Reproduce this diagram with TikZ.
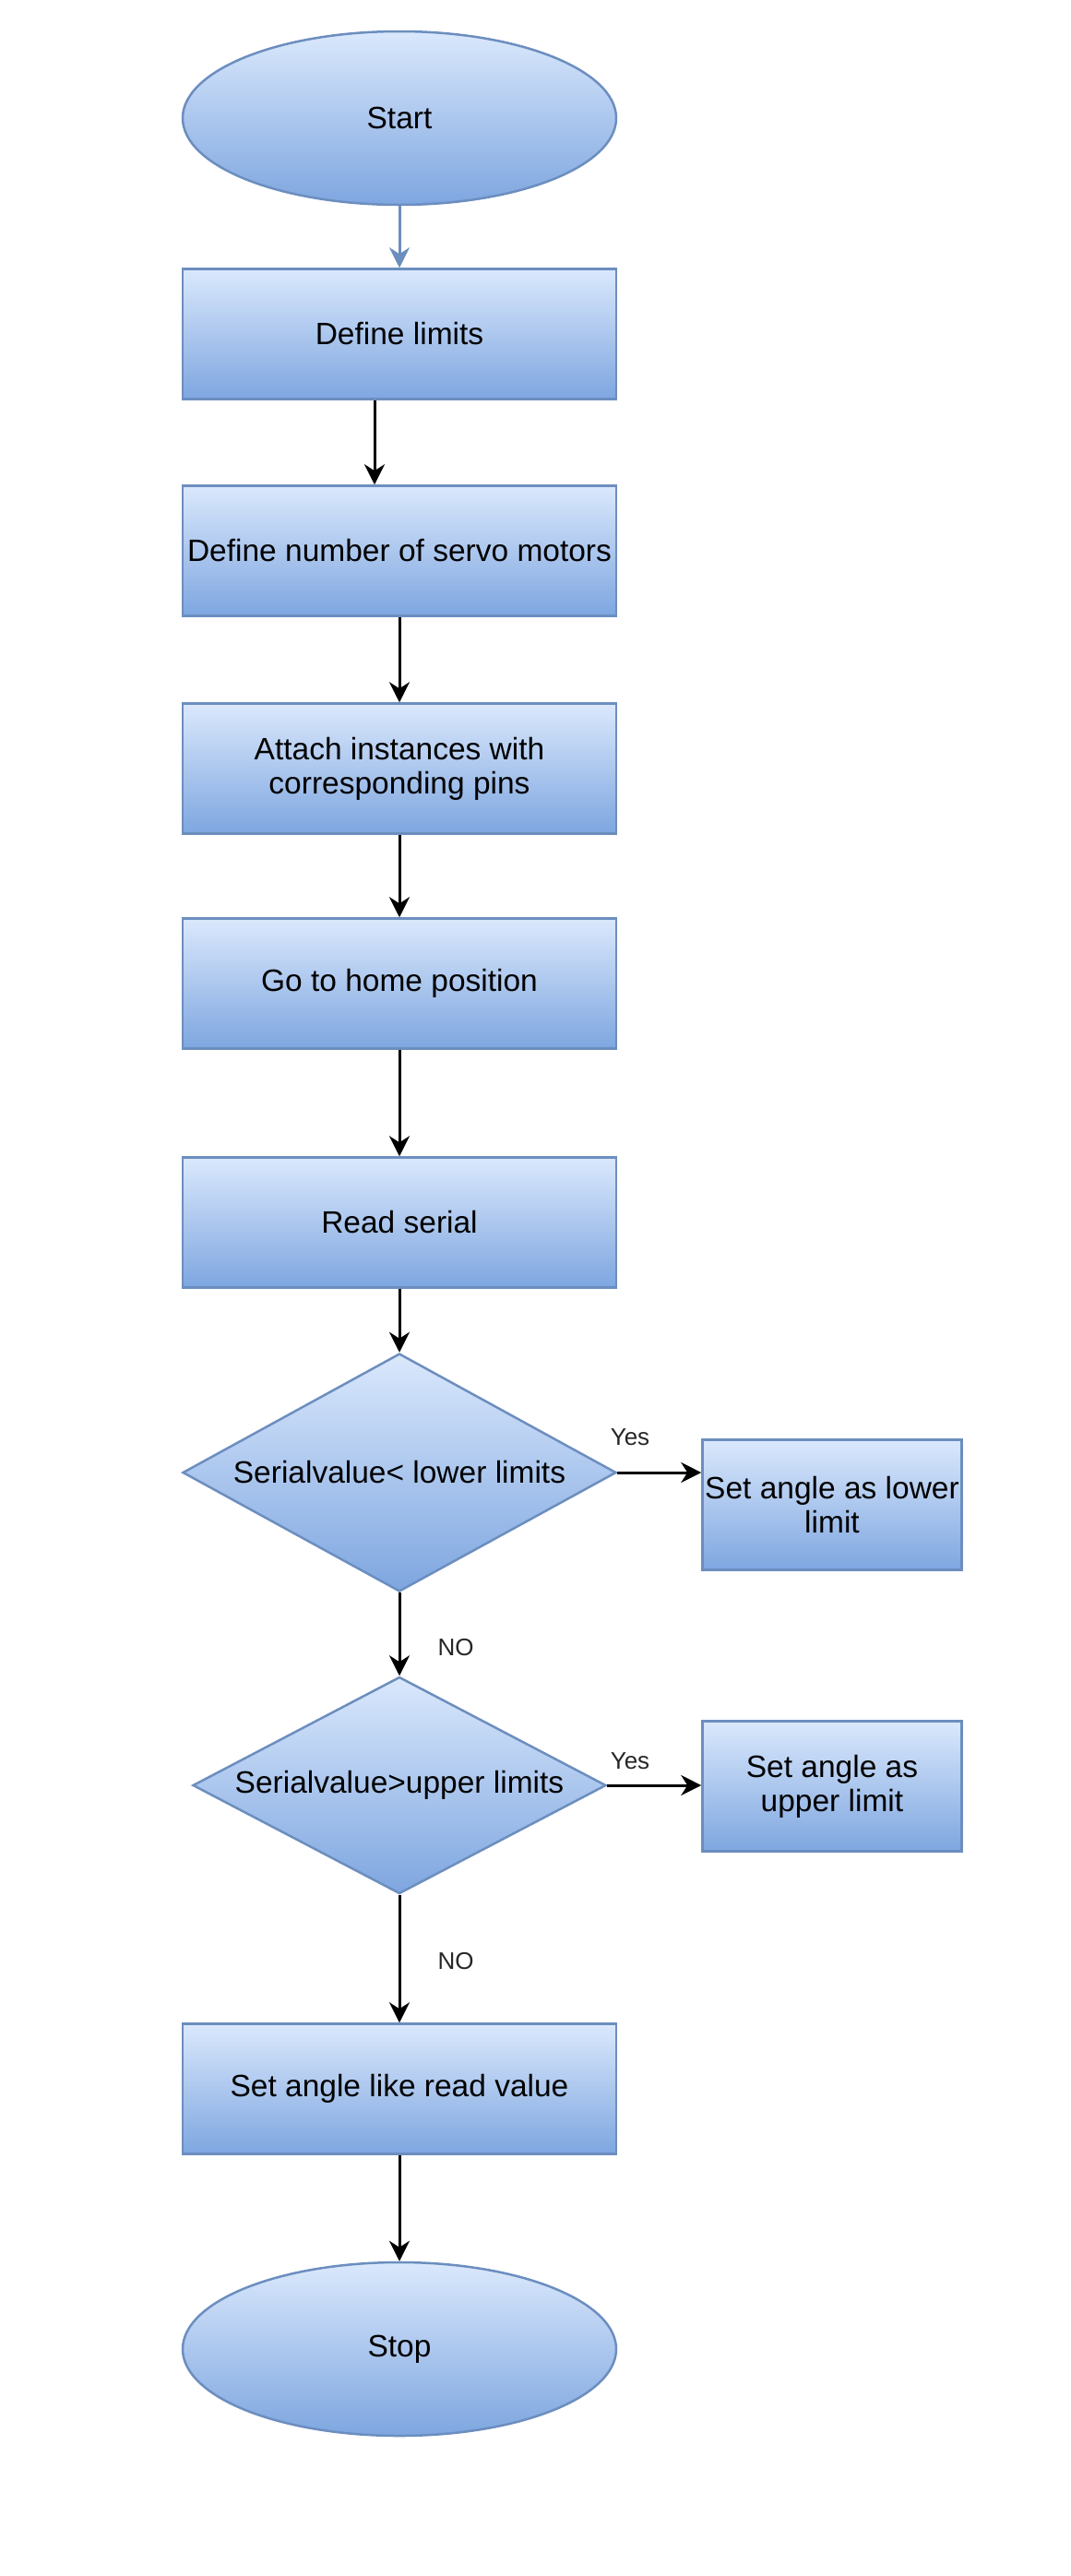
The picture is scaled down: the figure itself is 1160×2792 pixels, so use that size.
\documentclass[tikz,border=0pt]{standalone}
\usepackage{fontspec}
\setmainfont{Liberation Sans}
\usetikzlibrary{shapes.geometric,arrows.meta}
\definecolor{fillTop}{HTML}{DAE8FC}
\definecolor{fillBot}{HTML}{7EA6E0}
\definecolor{strokeBlue}{HTML}{6C8EBF}
\tikzset{
  boxbase/.style={draw=strokeBlue, line width=2.5pt, top color=fillTop, bottom color=fillBot, inner sep=0pt, font=\fontsize{33.5}{37}\selectfont, align=center},
  procbox/.style={boxbase, rectangle, minimum width=470pt, minimum height=141pt},
  sidebox/.style={boxbase, rectangle, minimum width=281pt, minimum height=141pt},
  termnode/.style={boxbase, ellipse, minimum width=470pt, minimum height=188pt},
  decnode/.style={boxbase, diamond},
  lbl/.style={font=\fontsize{33.5}{37}\selectfont},
  edgelbl/.style={font=\fontsize{26}{30}\selectfont, text=black!85},
  flow/.style={draw=black, line width=3pt, -{Stealth[length=22pt,width=22pt,inset=7pt]}},
  flowblue/.style={draw=strokeBlue, line width=3pt, -{Stealth[length=22pt,width=22pt,inset=7pt]}}
}
\begin{document}
\begin{tikzpicture}[x=1pt,y=-1pt]
\useasboundingbox (0,0) rectangle (1160,2792);
\node[termnode] (start) at (433,128) {Start};
\node[procbox] (deflim) at (433,362) {Define limits};
\node[procbox] (defnum) at (433,597) {Define number of servo motors};
\node[procbox] (attach) at (433,833) {Attach instances with\\corresponding pins};
\node[procbox] (home) at (433,1066) {Go to home position};
\node[procbox] (read) at (433,1325) {Read serial};
\node[decnode, minimum width=470pt, minimum height=258pt] (dlow) at (433,1596) {};
\node[lbl] (dlowt) at (dlow.center) {Serialvalue< lower limits};
\node[sidebox] (setlow) at (902,1631) {Set angle as lower\\limit};
\node[decnode, minimum width=448pt, minimum height=235pt] (dup) at (433,1935) {};
\node[lbl] (dupt) at (dup.center) {Serialvalue>upper limits};
\node[sidebox] (setup) at (902,1936) {Set angle as\\upper limit};
\node[procbox] (setread) at (433,2264) {Set angle like read value};
\node[termnode] (stop) at (433,2546) {Stop};

\draw[flowblue] (start.south) -- (deflim.north);
\draw[flow] (deflim.south -| 406,0) -- (defnum.north -| 406,0);
\draw[flow] (defnum.south) -- (attach.north);
\draw[flow] (attach.south) -- (home.north);
\draw[flow] (home.south) -- (read.north);
\draw[flow] (read.south) -- (dlow.north);
\draw[flow] (dlow.east) -- (dlow.east -| setlow.west);
\draw[flow] (dlow.south) -- (dup.north);
\draw[flow] (dup.east) -- (dup.east -| setup.west);
\draw[flow] (dup.south) -- (setread.north);
\draw[flow] (setread.south) -- (stop.north);

\node[edgelbl] (yes1) at (683,1558) {Yes};
\node[edgelbl] (no1) at (494,1786) {NO};
\node[edgelbl] (yes2) at (683,1909) {Yes};
\node[edgelbl] (no2) at (494,2126) {NO};
\end{tikzpicture}
\end{document}
